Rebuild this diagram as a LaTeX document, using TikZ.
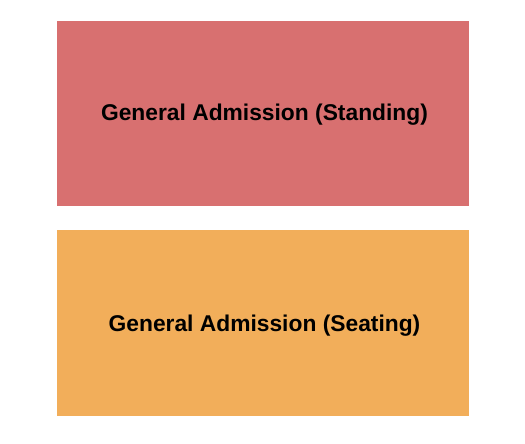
\documentclass[tikz,border=0pt]{standalone}
\usepackage{fontspec}
\setmainfont{Liberation Sans}
\definecolor{standred}{HTML}{D87070}
\definecolor{seatorange}{HTML}{F2AE5A}
\begin{document}
\begin{tikzpicture}[x=1pt,y=-1pt,
  lbl/.style={font=\bfseries\fontsize{22.8}{27}\selectfont, text=black, inner sep=0pt, anchor=base}]
\useasboundingbox[fill=white] (0,0) rectangle (525,444);
\fill[standred] (57,21) rectangle (469,206);
\fill[seatorange] (57,230) rectangle (469,415.5);
\node[lbl] (standing) at (264.5,121) {General Admission (Standing)};
\node[lbl] (seating) at (264.5,331) {General Admission (Seating)};
\end{tikzpicture}
\end{document}
